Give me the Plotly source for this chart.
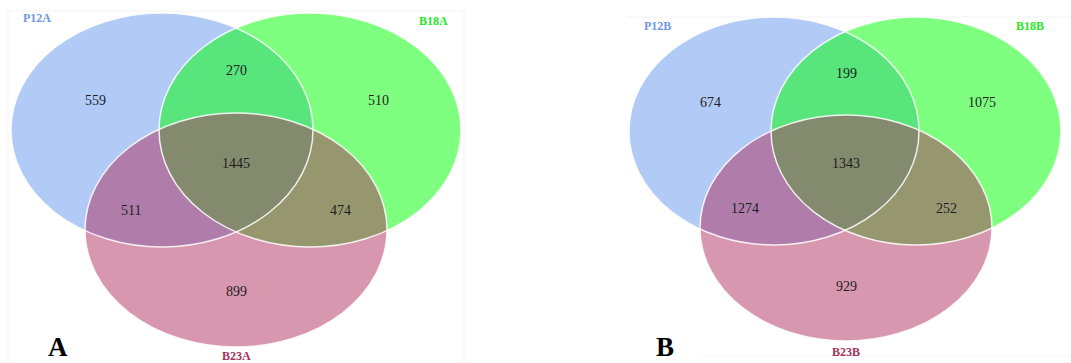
import plotly.graph_objects as go

# Region counts for each three-set Venn diagram, in the order:
# only set 1, set1&set2, only set 2, all three, set1&set3, set2&set3, only set 3
sets_a = ["P12A", "B18A", "B23A"]
counts_a = [559, 270, 510, 1445, 511, 474, 899]
sets_b = ["P12B", "B18B", "B23B"]
counts_b = [674, 199, 1075, 1343, 1274, 252, 929]
panel_tags = ["A", "B"]

W, H = 1071, 363

# Set colours (drawn half transparent so overlaps blend)
set_colors = ["#6495ED", "#00FF00", "#B03060"]
label_colors = ["#6f97e0", "#22e822", "#a8305c"]

# Panel geometry: ellipse centres/radii, region label anchors, set name anchors,
# tag anchor and faint frame lines
panels = [
    dict(
        sets=sets_a, counts=counts_a, tag=panel_tags[0],
        ellipses=[(162, 130, 151, 117), (310, 130, 151, 117), (236, 230, 151, 117)],
        spots=[(95, 100), (236, 70), (378, 100), (236, 163), (131, 210), (340, 210), (236, 291)],
        names=[(37, 18), (433, 21), (236, 356)],
        tag_pos=(58, 347),
        frame_lines=[(8, 11, 464, 11), (464, 11, 464, 363), (8, 11, 8, 363)],
    ),
    dict(
        sets=sets_b, counts=counts_b, tag=panel_tags[1],
        ellipses=[(774, 131, 145, 114), (916, 131, 145, 114), (846, 228, 146, 113)],
        spots=[(710, 102), (846, 73), (982, 102), (846, 163), (745, 208), (946, 208), (846, 286)],
        names=[(657, 26), (1030, 26), (846, 352)],
        tag_pos=(665, 347),
        frame_lines=[(627, 17, 1071, 17), (703, 356, 1071, 356)],
    ),
]

fig = go.Figure()
fig.add_trace(go.Scatter(x=[0, W], y=[0, H], mode="markers",
                         marker=dict(opacity=0), hoverinfo="skip", showlegend=False))

shapes = []
annotations = []
for p in panels:
    for (x0, y0, x1, y1) in p["frame_lines"]:
        shapes.append(dict(type="line", xref="x", yref="y", x0=x0, y0=y0, x1=x1, y1=y1,
                           line=dict(color="#f3f3f3", width=1), layer="below"))
    for (cx, cy, rx, ry), col in zip(p["ellipses"], set_colors):
        shapes.append(dict(type="circle", xref="x", yref="y",
                           x0=cx - rx, x1=cx + rx, y0=cy - ry, y1=cy + ry,
                           fillcolor=col, opacity=0.5, line=dict(width=0)))
    for (cx, cy, rx, ry) in p["ellipses"]:
        shapes.append(dict(type="circle", xref="x", yref="y",
                           x0=cx - rx, x1=cx + rx, y0=cy - ry, y1=cy + ry,
                           fillcolor="rgba(0,0,0,0)",
                           line=dict(color="rgba(255,255,255,0.85)", width=1.5)))
    for (x, y), n in zip(p["spots"], p["counts"]):
        annotations.append(dict(x=x, y=y, xref="x", yref="y", text=str(n), showarrow=False,
                                font=dict(family="Liberation Serif", size=14, color="#1e1e1e")))
    for (x, y), name, col in zip(p["names"], p["sets"], label_colors):
        annotations.append(dict(x=x, y=y, xref="x", yref="y", text="<b>%s</b>" % name,
                                showarrow=False,
                                font=dict(family="Liberation Serif", size=12, color=col)))
    tx, ty = p["tag_pos"]
    annotations.append(dict(x=tx, y=ty, xref="x", yref="y", text="<b>%s</b>" % p["tag"],
                            showarrow=False,
                            font=dict(family="Liberation Serif", size=27, color="#000000")))

fig.update_layout(
    width=W, height=H,
    margin=dict(l=0, r=0, t=0, b=0),
    paper_bgcolor="white", plot_bgcolor="white",
    xaxis=dict(range=[0, W], visible=False, fixedrange=True),
    yaxis=dict(range=[H, 0], visible=False, fixedrange=True),
    shapes=shapes, annotations=annotations, showlegend=False,
)

fig.write_html("out.html")
